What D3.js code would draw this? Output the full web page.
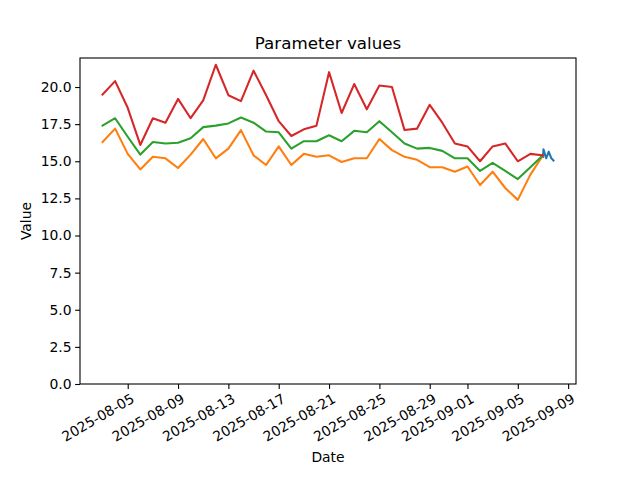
<!DOCTYPE html>
<html>
<head>
<meta charset="utf-8">
<script src="https://cdn.jsdelivr.net/npm/d3@7"></script>
<style>
  body { margin: 0; background: #fff; }
  svg { font-family: "DejaVu Sans", sans-serif; }
</style>
</head>
<body>
<svg id="chart" width="640" height="480"></svg>
<script>
// ---- data ----
const startDate = "2025-08-03";
const redValues = [19.5, 20.4, 18.6, 16.1, 17.9, 17.6, 19.2, 17.9, 19.1, 21.5, 19.45, 19.05, 21.1, 19.45, 17.7, 16.7, 17.15, 17.4, 21.0, 18.25, 20.2, 18.5, 20.1, 20.0, 17.1, 17.2, 18.8, 17.6, 16.2, 16.0, 15.0, 16.0, 16.2, 15.0, 15.5, 15.4];
const greenValues = [17.4, 17.9, 16.65, 15.45, 16.3, 16.2, 16.25, 16.55, 17.3, 17.4, 17.55, 17.95, 17.6, 17.0, 16.95, 15.85, 16.35, 16.35, 16.75, 16.35, 17.05, 16.95, 17.7, 16.95, 16.2, 15.85, 15.9, 15.7, 15.2, 15.2, 14.35, 14.9, 14.35, 13.8, 14.6, 15.4];
const orangeValues = [16.3, 17.2, 15.5, 14.45, 15.3, 15.2, 14.55, 15.45, 16.5, 15.2, 15.85, 17.1, 15.4, 14.75, 16.0, 14.75, 15.5, 15.3, 15.4, 14.95, 15.2, 15.2, 16.5, 15.75, 15.3, 15.1, 14.6, 14.6, 14.3, 14.65, 13.4, 14.3, 13.2, 12.4, 14.1, 15.4];
const blueTimes = ["2025-09-07T00:00", "2025-09-07T01:00", "2025-09-07T06:00", "2025-09-07T11:00", "2025-09-07T16:00", "2025-09-07T20:00"];
const blueValues = [15.3, 15.8, 15.2, 15.65, 15.2, 15.05];
const xTickLabels = ["2025-08-05", "2025-08-09", "2025-08-13", "2025-08-17", "2025-08-21", "2025-08-25", "2025-08-29", "2025-09-01", "2025-09-05", "2025-09-09"];
const yTicks = [0, 2.5, 5, 7.5, 10, 12.5, 15, 17.5, 20];
const titleText = "Parameter values";
const xLabelText = "Date";
const yLabelText = "Value";

// ---- build ----
(function () {
const FONT = "DejaVu Sans";
const parseDay = d3.timeParse("%Y-%m-%d");
const parseHour = d3.timeParse("%Y-%m-%dT%H:%M");
const d0 = parseDay(startDate);
const dailyDates = redValues.map((_, i) => d3.timeDay.offset(d0, i));
const blueDates = blueTimes.map(parseHour);

const series = [
  { color: "#1f77b4", pts: blueDates.map((d, i) => [d, blueValues[i]]) },
  { color: "#ff7f0e", pts: dailyDates.map((d, i) => [d, orangeValues[i]]) },
  { color: "#2ca02c", pts: dailyDates.map((d, i) => [d, greenValues[i]]) },
  { color: "#d62728", pts: dailyDates.map((d, i) => [d, redValues[i]]) }
];

const mLeft = 80, mRight = 576, mTop = 58, mBottom = 384;
const svg = d3.select("#chart");

const allPts = series.flatMap(s => s.pts);
const tMin = d3.min(allPts, p => +p[0]), tMax = d3.max(allPts, p => +p[0]);
const tSpan = tMax - tMin;
const x = d3.scaleTime()
  .domain([new Date(tMin - 0.05 * tSpan), new Date(tMax + 0.05 * tSpan)])
  .range([mLeft, mRight]);
const vMin = d3.min(allPts, p => p[1]), vMax = d3.max(allPts, p => p[1]);
const y = d3.scaleLinear()
  .domain([0, vMax + 0.05 * (vMax - vMin)])
  .range([mBottom, mTop]);

const line = d3.line().x(p => x(p[0])).y(p => y(p[1]));
svg.append("g").selectAll("path").data(series).join("path")
  .attr("d", s => line(s.pts))
  .attr("fill", "none")
  .attr("stroke", s => s.color)
  .attr("stroke-width", 2.08)
  .attr("stroke-linejoin", "round")
  .attr("stroke-linecap", "square");

// axes
const xTickDates = xTickLabels.map(parseDay);
const xAxis = d3.axisBottom(x).tickValues(xTickDates).tickFormat(d3.timeFormat("%Y-%m-%d")).tickSizeOuter(0).tickSize(4.9).tickPadding(3.5);
const gx = svg.append("g").attr("transform", `translate(0,${mBottom})`).call(xAxis)
  .attr("font-family", FONT).attr("font-size", 13.9);
gx.select(".domain").remove();
gx.selectAll("line").attr("stroke", "#000").attr("stroke-width", 1.1);
gx.selectAll("text")
  .attr("fill", "#000")
  .attr("text-anchor", "end")
  .attr("y", 0).attr("dy", "0")
  .attr("dominant-baseline", "hanging")
  .attr("transform", "translate(2,8.5) rotate(-30)");

const yAxis = d3.axisLeft(y).tickValues(yTicks).tickFormat(d3.format(".1f")).tickSizeOuter(0).tickSize(4.9).tickPadding(3.5);
const gy = svg.append("g").attr("transform", `translate(${mLeft},0)`).call(yAxis)
  .attr("font-family", FONT).attr("font-size", 13.9);
gy.select(".domain").remove();
gy.selectAll("line").attr("stroke", "#000").attr("stroke-width", 1.1);
gy.selectAll("text").attr("fill", "#000");

// frame
svg.append("rect").attr("x", mLeft).attr("y", mTop).attr("width", mRight - mLeft).attr("height", mBottom - mTop)
  .attr("fill", "none").attr("stroke", "#000").attr("stroke-width", 1.1);

// labels
svg.append("text").attr("x", (mLeft + mRight) / 2).attr("y", 49).attr("text-anchor", "middle")
  .attr("font-family", FONT).attr("font-size", 16.7).attr("fill", "#000").text(titleText);
svg.append("text").attr("x", (mLeft + mRight) / 2).attr("y", 462).attr("text-anchor", "middle")
  .attr("font-family", FONT).attr("font-size", 13.9).attr("fill", "#000").text(xLabelText);
svg.append("text").attr("transform", `translate(31,${(mTop + mBottom) / 2}) rotate(-90)`).attr("text-anchor", "middle")
  .attr("font-family", FONT).attr("font-size", 13.9).attr("fill", "#000").text(yLabelText);
})();
</script>
</body>
</html>
